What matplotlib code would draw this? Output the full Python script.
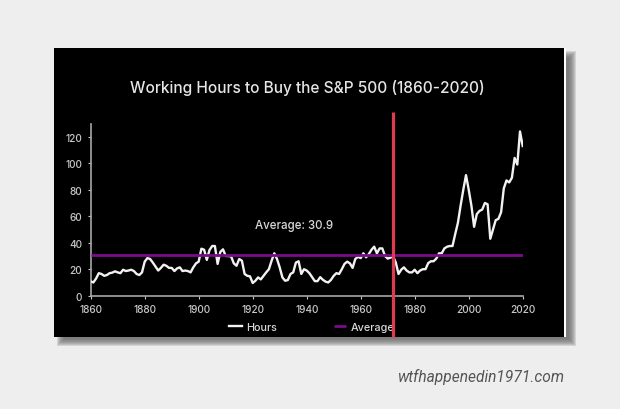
import matplotlib
matplotlib.use("Agg")
import matplotlib.pyplot as plt
from matplotlib.patches import Rectangle

years = list(range(1860, 2021))
hours = [10.8,10,13,17,16.4,15,15.6,17,17.4,18.4,17.6,17,19.6,18.6,19,19.6,18.6,16.4,15.6,17.6,
         25.7,28.4,27.7,25,22,19,21,23.4,22.6,21,21,18.6,20.6,21.4,18.6,19,18.6,17.6,21.4,24.4,
         25.7,35.5,34.7,27,34.5,37.5,37.5,24,33,35,30,30,29.7,24.4,22.6,27.7,26.4,16.4,15,14.6,
         9.6,11.3,13.8,12.3,15,17.6,20,26.4,32,27.7,21.4,13.8,11.3,11.8,16.4,17.6,25,26,16.4,20,
         19,17,14,11,11,14,12,10.6,10,12,15,17,16.4,20,24,25.7,24.4,21,27.7,29.4,
         28.4,32,29,31.4,34.7,37,32,35.7,35.7,30,28,28.7,29.7,25,16.4,19.6,21.4,19,17.6,17.6,
         19.6,17,19,20,20,24.6,26,26,28,32,32,35.7,37,37.5,37.5,46.5,55,68,80,91,
         80,68,52,61.6,64,65,70,69,43,50,57,58,63,81,87,85.5,89,104,99,124,113]
average_value = 30.9
average = [average_value] * len(years)
marker_year = 1972
xticks = [1860, 1880, 1900, 1920, 1940, 1960, 1980, 2000, 2020]
yticks = [0, 20, 40, 60, 80, 100, 120]
title = "Working Hours to Buy the S&P 500 (1860-2020)"
site = "wtfhappenedin1971.com"

W, H = 620, 410
fig = plt.figure(figsize=(W/100, H/100), dpi=100, facecolor="#eeeeee")

bg = fig.add_axes([0, 0, 1, 1], zorder=0)
bg.set_xlim(0, W); bg.set_ylim(H, 0); bg.axis("off")
for g in range(8):
    grow = 4 - g
    bg.add_patch(Rectangle((61 - grow, 56 - grow), 511 + 2*grow, 287 + 2*grow,
                           fc="#6a6a6a", ec="none", alpha=0.2))
bg.add_patch(Rectangle((54, 48.5), 511.5, 289.5, fc="white", ec="none"))
bg.add_patch(Rectangle((54, 48.5), 510, 289.5, fc="black", ec="none"))
bg.text(564.5, 376.5, site, ha="right", va="center", style="italic", family="Roboto",
        fontsize=11.2, color="#555555")
bg.text(307.5, 88, title, ha="center", va="center", family="Inter", fontsize=11.1,
        color="#e6e6e6", fontweight="medium")

ax = fig.add_axes([90.7/W, 1-296.7/H, 432/W, 171.7/H], zorder=1)
ax.set_facecolor("none")
ax.set_xlim(1860, 2020)
ax.set_ylim(0, 129.6)
l1, = ax.plot(years, hours, color="#f2f2f2", lw=1.7, label="Hours", solid_joinstyle="round", zorder=3)
l2, = ax.plot(years, average, color="#7c0a8c", lw=2.0, label="Average", zorder=4, solid_capstyle="butt")
ax.annotate(f"Average: {average_value}", xy=(294.5, 226), xycoords=bg.transData,
            ha="center", va="center", family="Inter", fontsize=8.3, color="#d8d8d8",
            fontweight="medium")
for s in ("top", "right"):
    ax.spines[s].set_visible(False)
for s in ("left", "bottom"):
    ax.spines[s].set_color("#a8a8a8"); ax.spines[s].set_linewidth(1.2)
ax.set_xticks(xticks); ax.set_yticks(yticks)
ax.tick_params(axis="both", colors="#c8c8c8", length=2, width=0.8, labelsize=7.3, pad=4)
for t in ax.get_xticklabels() + ax.get_yticklabels():
    t.set_family("Inter"); t.set_fontweight("medium")
leg = ax.legend(handles=[l1, l2], loc="center",
                bbox_to_anchor=(312/W, 1-328/H), bbox_transform=fig.transFigure,
                ncol=2, frameon=False, handlelength=1.15, columnspacing=5.2, handletextpad=0.45,
                labelcolor="#d8d8d8", prop={"family": "Inter", "size": 7.8, "weight": "medium"})
leg.set_zorder(5)
ax.axvline(marker_year, ymin=-0.24, ymax=1.07, color="#dc3b50", lw=2.3, clip_on=False, zorder=6,
           solid_capstyle="butt")

fig.savefig("out.png", dpi=100, facecolor=fig.get_facecolor())
